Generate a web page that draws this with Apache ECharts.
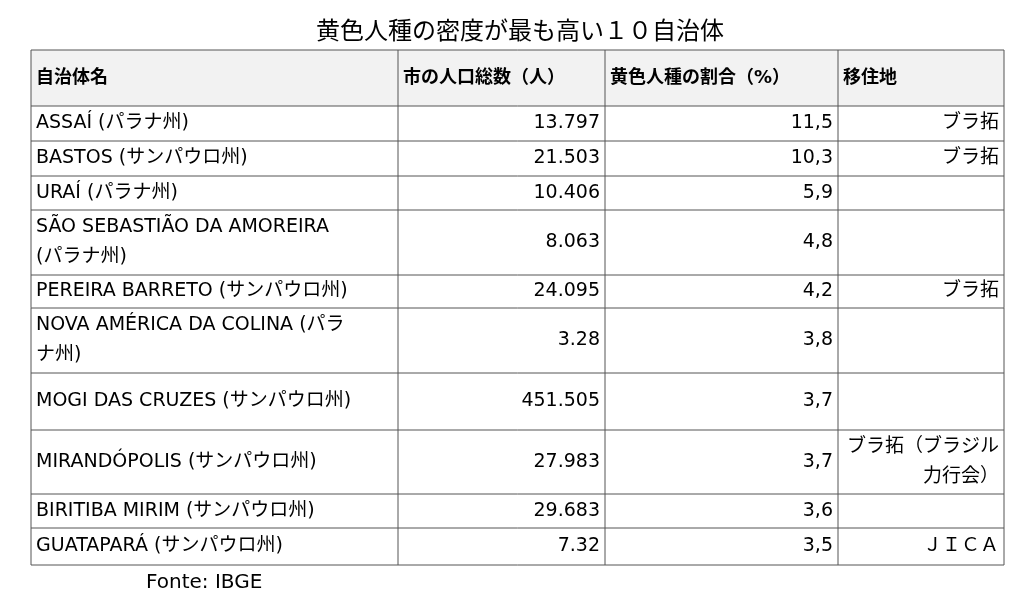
<!DOCTYPE html>
<html>
<head>
<meta charset="utf-8">
<script src="https://cdn.jsdelivr.net/npm/echarts@6/dist/echarts.min.js"></script>
<style>html,body{margin:0;background:#fff}</style>
</head>
<body>
<div id="main" style="width:1024px;height:610px"></div>
<script>
const titleText = '黄色人種の密度が最も高い１０自治体'
const headers = ['自治体名', '市の人口総数（人）', '黄色人種の割合（%）', '移住地']
const names = [
  'ASSAÍ (パラナ州)',
  'BASTOS (サンパウロ州)',
  'URAÍ (パラナ州)',
  'SÃO SEBASTIÃO DA AMOREIRA\n(パラナ州)',
  'PEREIRA BARRETO (サンパウロ州)',
  'NOVA AMÉRICA DA COLINA (パラ\nナ州)',
  'MOGI DAS CRUZES (サンパウロ州)',
  'MIRANDÓPOLIS (サンパウロ州)',
  'BIRITIBA MIRIM (サンパウロ州)',
  'GUATAPARÁ (サンパウロ州)'
]
const population = ['13.797', '21.503', '10.406', '8.063', '24.095', '3.28', '451.505', '27.983', '29.683', '7.32']
const ratio = ['11,5', '10,3', '5,9', '4,8', '4,2', '3,8', '3,7', '3,7', '3,6', '3,5']
const settlement = ['ブラ拓', 'ブラ拓', '', '', 'ブラ拓', '', '', 'ブラ拓（ブラジル\n力行会）', '', 'ＪＩＣＡ']
const sourceText = 'Fonte: IBGE'

const colX = [31, 398, 605, 838, 1004]
const rowY = [50, 106, 141, 176, 210, 275, 308, 373, 430, 494, 528, 565]
const align = ['left', 'right', 'right', 'right']
const font = '"DejaVu Sans", "Noto Sans CJK JP", sans-serif'

const els = []
els.push({ type: 'rect', shape: { x: colX[0], y: rowY[0], width: colX[4] - colX[0], height: rowY[1] - rowY[0] }, style: { fill: '#f2f2f2' } })
const rows = [headers].concat(names.map((n, i) => [n, population[i], ratio[i], settlement[i]]))
rows.forEach((r, ri) => {
  const y0 = rowY[ri], y1 = rowY[ri + 1]
  r.forEach((t, ci) => {
    const x = align[ci] === 'left' || ri === 0 ? colX[ci] + 5 : colX[ci + 1] - 5
    els.push({
      type: 'text', x: x, y: (y0 + y1) / 2,
      style: {
        text: t, font: (ri === 0 ? 'bold 18px ' : '19px ') + font, fill: '#000',
        align: ri === 0 ? 'left' : align[ci], verticalAlign: 'middle', lineHeight: 30
      }
    })
  })
})
rowY.forEach(y => els.push({ type: 'line', shape: { x1: colX[0], y1: y, x2: colX[4], y2: y }, style: { stroke: '#555', lineWidth: 1 } }))
colX.forEach(x => els.push({ type: 'line', shape: { x1: x, y1: rowY[0], x2: x, y2: rowY[rowY.length - 1] }, style: { stroke: '#555', lineWidth: 1 } }))
els.push({ type: 'text', x: 520, y: 33, style: { text: titleText, font: '24px ' + font, fill: '#000', align: 'center', verticalAlign: 'middle' } })
els.push({ type: 'text', x: 146, y: 583, style: { text: sourceText, font: '20px ' + font, fill: '#000', align: 'left', verticalAlign: 'middle' } })

const myChart = echarts.init(document.getElementById('main'))
myChart.setOption({ animation: false, graphic: { elements: els } })
</script>
</body>
</html>
